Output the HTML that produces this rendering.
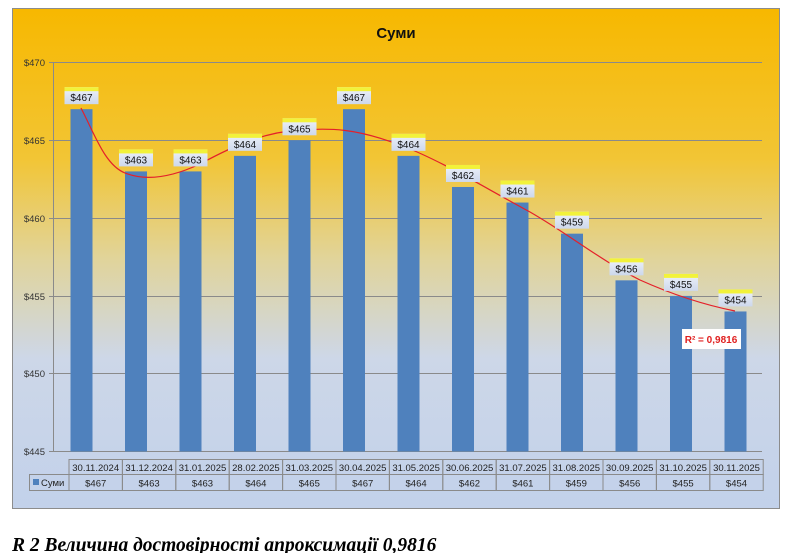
<!DOCTYPE html>
<html><head><meta charset="utf-8"><style>
body{margin:0;width:789px;height:553px;background:#fff;overflow:hidden;font-family:"Liberation Sans",sans-serif}
</style></head><body>
<svg width="789" height="553" xmlns="http://www.w3.org/2000/svg" style="position:absolute;left:0;top:0">
<defs>
<linearGradient id="bg" x1="0" y1="0" x2="0" y2="1">
<stop offset="0" stop-color="#f7b800"/>
<stop offset="0.3" stop-color="#f2c535"/>
<stop offset="0.5" stop-color="#e1d49a"/>
<stop offset="0.7" stop-color="#cdd7e8"/>
<stop offset="1" stop-color="#c2d1ea"/>
</linearGradient>
<linearGradient id="lb" x1="0" y1="0" x2="0" y2="1">
<stop offset="0" stop-color="#eef2fa"/><stop offset="1" stop-color="#cdd8ec"/>
</linearGradient>
</defs>
<rect x="12.5" y="8.5" width="767" height="500" fill="url(#bg)" stroke="#8c8c8c"/>
<text x="396" y="38" font-size="15" font-weight="bold" text-anchor="middle" fill="#111">Суми</text>
<g stroke="#8a8a8a" stroke-width="1">
<line x1="49" y1="62.5" x2="762" y2="62.5"/>
<line x1="49" y1="140.5" x2="762" y2="140.5"/>
<line x1="49" y1="218.5" x2="762" y2="218.5"/>
<line x1="49" y1="296.5" x2="762" y2="296.5"/>
<line x1="49" y1="373.5" x2="762" y2="373.5"/>
<line x1="49" y1="451.5" x2="762" y2="451.5"/>
<line x1="53.5" y1="62" x2="53.5" y2="452"/>
</g>
<g font-size="9.5" fill="#333" text-anchor="end">
<text x="45" y="66">$470</text><text x="45" y="144">$465</text><text x="45" y="222">$460</text>
<text x="45" y="300">$455</text><text x="45" y="377">$450</text><text x="45" y="455">$445</text>
</g>
<g id="bars" fill="#4f81bd"></g>
<path d="M81,108 C95,135 105,165 125,173 C145,181 170,178 200,164 C235,145 265,132 300,130 C330,128 355,128 400,145 C440,160 480,185 530,212 C570,235 600,260 640,280 C680,298 710,306 735,311" fill="none" stroke="#e4202a" stroke-width="1.2"/>
<g id="labels"></g>
<rect x="682" y="329" width="59" height="20" fill="#fff"/>
<text x="711" y="343" font-size="10" font-weight="bold" fill="#e02020" text-anchor="middle">R² = 0,9816</text>
<g id="tbl" font-size="9.5" fill="#222" text-anchor="middle"></g>
<text x="12" y="551" font-family="Liberation Serif,serif" font-size="19.5" font-weight="bold" font-style="italic" fill="#000">R 2 Величина достовірності апроксимації 0,9816</text>
</svg>
<script>
var vals=[467,463,463,464,465,467,464,462,461,459,456,455,454];
var dates=["30.11.2024","31.12.2024","31.01.2025","28.02.2025","31.03.2025","30.04.2025","31.05.2025","30.06.2025","31.07.2025","31.08.2025","30.09.2025","31.10.2025","30.11.2025"];
var ns="http://www.w3.org/2000/svg";
function el(p,t,a,txt){var e=document.createElementNS(ns,t);for(var k in a)e.setAttribute(k,a[k]);if(txt)e.textContent=txt;p.appendChild(e);return e;}
var B=document.getElementById("bars"),L=document.getElementById("labels"),T=document.getElementById("tbl");
vals.forEach(function(v,i){
 var cx=81.5+i*54.5, y=451.5-(v-445)*15.56;
 el(B,"rect",{x:cx-11,y:y,width:22,height:451.5-y});
 var ly=y-22;
 el(L,"rect",{x:cx-17,y:ly,width:34,height:17,fill:"url(#lb)"});
 el(L,"rect",{x:cx-17,y:ly,width:34,height:4,fill:"#f2f23a"});
 el(L,"text",{x:cx,y:ly+14,"font-size":"10","text-anchor":"middle",fill:"#111"},"$"+v);
 var tx=69+i*53.4;
 el(T,"rect",{x:tx,y:459.5,width:53.4,height:15,fill:"none",stroke:"#8a8a8a"});
 el(T,"rect",{x:tx,y:474.5,width:53.4,height:16,fill:"none",stroke:"#8a8a8a"});
 el(T,"text",{x:tx+26.7,y:471},dates[i]);
 el(T,"text",{x:tx+26.7,y:486.5},"$"+v);
});
el(T,"rect",{x:29.5,y:474.5,width:39.5,height:16,fill:"none",stroke:"#8a8a8a"});
el(T,"rect",{x:33,y:479,width:6,height:6,fill:"#4f81bd"});
el(T,"text",{x:41,y:486,"text-anchor":"start"},"Суми");
</script>
</body></html>
